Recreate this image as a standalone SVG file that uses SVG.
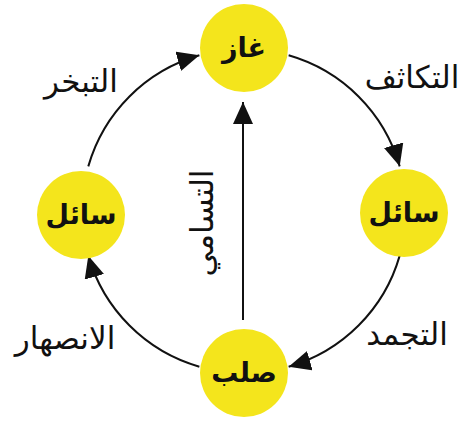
<svg xmlns="http://www.w3.org/2000/svg" width="462" height="422" viewBox="0 0 462 422">
<style>
.node{fill:#f4e51c;}
.nt{font-family:"DejaVu Sans",sans-serif;font-size:27px;font-weight:bold;fill:#111;text-anchor:middle;}
.lb{font-family:"DejaVu Sans",sans-serif;font-size:31px;fill:#111;text-anchor:middle;}
.arc{fill:none;stroke:#111;stroke-width:2;}
</style>
<defs>
<marker id="ah" markerUnits="userSpaceOnUse" markerWidth="24" markerHeight="22" refX="22" refY="10" orient="auto">
<path d="M0,0 L22,10 L0,20 Z" fill="#111"/>
</marker>
</defs>
<rect width="462" height="422" fill="#fff"/>
<g id="connectors">
<path class="arc" d="M288.65 55.3 A162 162 0 0 1 399.7 166.35" marker-end="url(#ah)"/>
<path class="arc" d="M399.7 255.65 A162 162 0 0 1 288.65 366.7" marker-end="url(#ah)"/>
<path class="arc" d="M199.35 366.7 A162 162 0 0 1 88.3 255.65" marker-end="url(#ah)"/>
<path class="arc" d="M88.3 166.35 A162 162 0 0 1 199.35 55.3" marker-end="url(#ah)"/>
<path class="arc" d="M243 320 L243 102" marker-end="url(#ah)"/>
</g>
<g id="n-gas"><circle class="node" cx="244" cy="48" r="44"/><text class="nt" x="244" y="57">غاز</text></g>
<g id="n-liquid-right"><circle class="node" cx="404" cy="213" r="44"/><text class="nt" x="404" y="222">سائل</text></g>
<g id="n-liquid-left"><circle class="node" cx="81" cy="215" r="44"/><text class="nt" x="81" y="224">سائل</text></g>
<g id="n-solid"><circle class="node" cx="244" cy="373" r="44"/><text class="nt" x="244" y="382">صلب</text></g>
<g id="labels">
<text class="lb" x="81" y="92">التبخر</text>
<text class="lb" x="412" y="88">التكاثف</text>
<text class="lb" x="407" y="345">التجمد</text>
<text class="lb" x="65" y="349">الانصهار</text>
<text class="lb" transform="translate(213 223) rotate(-90)">التسامي</text>
</g>
</svg>
